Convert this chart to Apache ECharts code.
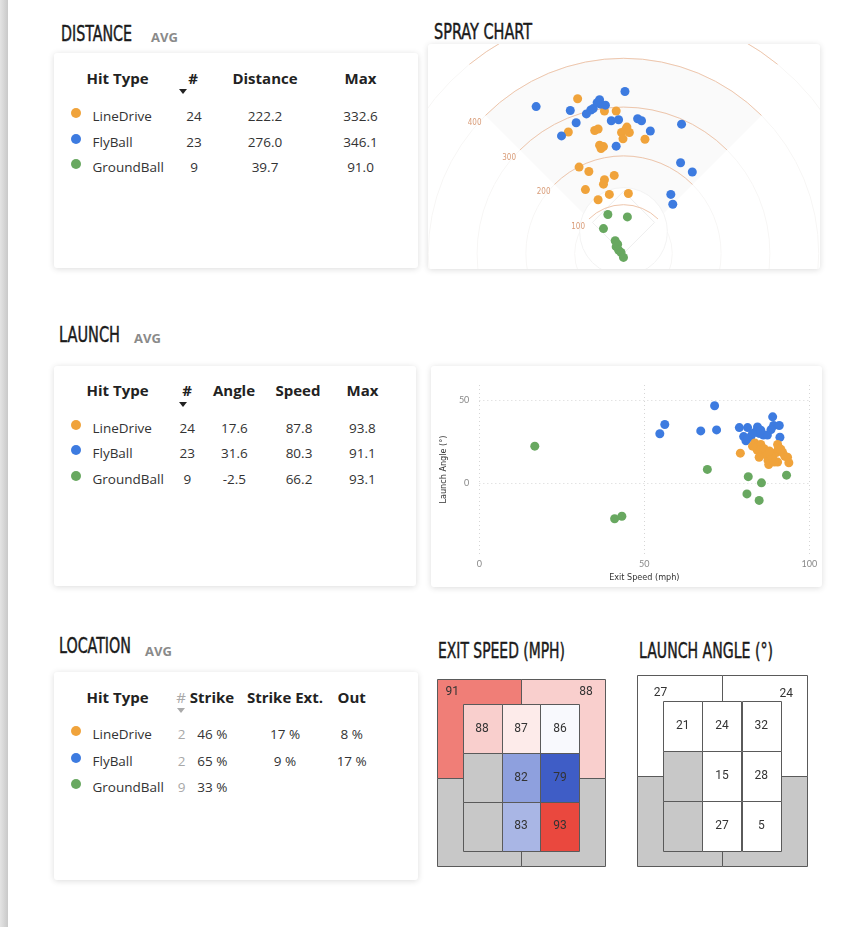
<!DOCTYPE html>
<html>
<head>
<meta charset="utf-8">
<style>
    body{margin:0;width:860px;height:927px;position:relative;overflow:hidden;background:#fff;font-family:"Open Sans","Noto Sans",sans-serif;color:#333;}
    .strip{position:absolute;left:0;top:0;width:8px;height:927px;background:linear-gradient(to right,#e4e4e4,#c9c9c9);}
    .title{position:absolute;font-family:"Liberation Sans Narrow","DejaVu Sans Condensed",sans-serif;font-size:22px;line-height:1;color:#1a1a1a;white-space:nowrap;transform-origin:left top;-webkit-text-stroke:0.45px #1a1a1a;}
    .avg{position:absolute;font-weight:bold;font-size:13px;color:#8a8a8a;line-height:1;transform:translate(0,-50%);}
    .card{position:absolute;background:#fff;border-radius:3px;box-shadow:0 1px 6px rgba(0,0,0,.14);}
    .t{position:absolute;white-space:nowrap;transform:translate(-50%,-50%);line-height:1.2;font-size:13.5px;color:#333;}
    .t.l{transform:translate(0,-50%);}
    .t.h{font-weight:bold;font-size:15px;color:#222;}
    .t.g{color:#a8a8a8;font-weight:normal;}
    .dot{position:absolute;width:10px;height:10px;border-radius:50%;}
    .arrow{position:absolute;width:0;height:0;border-left:4.5px solid transparent;border-right:4.5px solid transparent;border-top:5px solid #222;}
    .chart{position:absolute;}
</style>
<script src="https://cdn.jsdelivr.net/npm/echarts@6/dist/echarts.min.js"></script>
</head>
<body>
<div class="strip"></div>

<div class="card" style="left:54px;top:53px;width:364px;height:215px;"></div>
<div class="card" style="left:428px;top:44px;width:392px;height:225px;overflow:hidden;"><div id="spray" style="width:392px;height:225px;"></div></div>
<div class="card" style="left:54px;top:366px;width:362px;height:220px;"></div>
<div class="card" style="left:431px;top:366px;width:391px;height:221px;"><div id="launch" style="width:391px;height:221px;"></div></div>
<div class="card" style="left:54px;top:672px;width:364px;height:208px;"></div>

<div id="zoneSpeed" class="chart" style="left:435px;top:677px;width:172px;height:191px;"></div>
<div id="zoneAngle" class="chart" style="left:635px;top:673px;width:174px;height:195px;"></div>

<script type="text/javascript">
    // ---- table data ----
    var hitTypes = ['LineDrive', 'FlyBall', 'GroundBall'];
    var hitColors = ['#F0A33B', '#3D7BE0', '#68A860'];
    var hitCounts = [24, 23, 9];
    var distanceAvg = [222.2, 276.0, 39.7];
    var distanceMax = [332.6, 346.1, 91.0];
    var launchAngleAvg = [17.6, 31.6, -2.5];
    var launchSpeedAvg = [87.8, 80.3, 66.2];
    var launchSpeedMax = [93.8, 91.1, 93.1];
    var locCounts = [2, 2, 9];
    var locStrike = [46, 65, 33];
    var locStrikeExt = [17, 9, null];
    var locOut = [8, 17, null];

    // ---- spray chart: [x ft, y ft] from home plate ----
    var sprayLineDrive = [[-94,317],[-39,292],[-15,292],[-113,249],[-59,252],[-52,255],[7,259],[-4,248],[12,248],[4,253],[-1,235],[44,234],[-49,222],[-41,219],[-46,215],[-91,177],[-71,168],[-19,160],[-39,151],[-41,142],[-78,131],[-29,121],[10,123],[-52,110]];
    var sprayFlyBall = [[-179,301],[-109,293],[-97,268],[-127,241],[-76,286],[-67,294],[-62,297],[-49,315],[-47,306],[-37,304],[3,332],[-25,272],[-10,274],[29,276],[37,272],[55,251],[-15,220],[119,265],[117,186],[141,167],[97,121],[101,101],[-54,309]];
    var sprayGroundBall = [[-32,80],[8,75],[-41,51],[-17,26],[-15,14],[-12,19],[-10,7],[-5,2],[0,-8]];
    var distanceRings = [100, 200, 300, 400, 500];
    var distanceLabels = ['100', '200', '300', '400'];

    // ---- launch scatter: [exit speed, launch angle] ----
    var launchLineDrive = [[79.1,17.9],[83.5,24],[85.3,23.1],[84.2,19.8],[85.9,18.3],[87,16.7],[87.5,13.5],[87.7,11],[89,14.4],[90,18.3],[90.4,23.1],[90.6,20.6],[90.4,12.5],[91.9,18.3],[92.6,16],[93.4,15.4],[93.8,12.1],[88.4,16.3],[89.4,12.5],[84.8,15.4],[86.3,20.6],[87.9,19.2],[91.4,20.2],[82.8,22.1]];
    var launchFlyBall = [[71.3,46.5],[56.2,35.2],[54.7,29.6],[67.1,31.3],[71.9,31.9],[78.8,33.3],[81.3,33.3],[84.3,33.7],[88.9,39.8],[89.2,34.6],[90.9,34.6],[88.4,32.1],[91.1,27.5],[80.1,27.9],[80.8,25.4],[82.3,27.9],[83.8,30.8],[84.8,29.8],[86.1,28.8],[87.3,28.8],[82.8,29.8],[85.3,31.7],[81.3,26.9]];
    var launchGroundBall = [[16.8,22.1],[41,-21.7],[43.2,-20.2],[69.1,8.1],[81.5,3.7],[85.5,0],[93.1,4.6],[81.1,-6.7],[84.8,-10.6]];
    var angleTicks = [0, 50];

    // ---- strike zones: outer [TL, TR, BL, BR], inner rows top to bottom ----
    var speedOuter = [91, 88, null, null];
    var speedInner = [[88, 87, 86], [null, 82, 79], [null, 83, 93]];
    var angleOuter = [27, 24, null, null];
    var angleInner = [[21, 24, 32], [null, 15, 28], [null, 27, 5]];

    var narrow = '"Liberation Sans Narrow","DejaVu Sans Condensed",sans-serif';

    // ---- headings ----
    function heading(text, x, capTop, width) {
        var d = document.createElement('div');
        d.className = 'title';
        d.textContent = text;
        d.style.left = x + 'px';
        d.style.top = (capTop - 3) + 'px';
        document.body.appendChild(d);
        var w = d.getBoundingClientRect().width;
        d.style.transform = 'scaleX(' + (width / w) + ')';
    }
    function avgTag(x, y) {
        var d = document.createElement('div');
        d.className = 'avg';
        d.textContent = 'AVG';
        d.style.left = x + 'px';
        d.style.top = y + 'px';
        document.body.appendChild(d);
    }
    heading('DISTANCE', 61, 26, 71);
    avgTag(151, 37);
    heading('SPRAY CHART', 434, 24, 98);
    heading('LAUNCH', 59, 327, 61);
    avgTag(134, 338);
    heading('LOCATION', 59, 638, 72);
    avgTag(145, 651);
    heading('EXIT SPEED (MPH)', 438, 643, 127);
    heading('LAUNCH ANGLE (°)', 639, 643, 134);

    // ---- tables ----
    function txt(s, x, y, cls) {
        var d = document.createElement('div');
        d.className = 't ' + (cls || '');
        d.textContent = s;
        d.style.left = x + 'px';
        d.style.top = y + 'px';
        document.body.appendChild(d);
    }
    function arrow(x, y, color) {
        var d = document.createElement('div');
        d.className = 'arrow';
        d.style.left = (x - 4.5) + 'px';
        d.style.top = (y - 2.5) + 'px';
        d.style.borderTopColor = color;
        document.body.appendChild(d);
    }
    function table(headY, heads, arrowPos, arrowColor, rowsY, cols) {
        heads.forEach(function (h) { txt(h[0], h[1], headY, 'h ' + (h[2] || '')); });
        arrow(arrowPos[0], arrowPos[1], arrowColor);
        hitTypes.forEach(function (name, i) {
            var dot = document.createElement('div');
            dot.className = 'dot';
            dot.style.background = hitColors[i];
            dot.style.left = '71px';
            dot.style.top = (rowsY[i] - 8) + 'px';
            document.body.appendChild(dot);
            txt(name, 92.5, rowsY[i], 'l');
            cols.forEach(function (c) {
                var v = c[0][i];
                if (v === null) return;
                txt(c[2](v), c[1], rowsY[i], c[3] || '');
            });
        });
    }
    function f1(v) { return v.toFixed(1); }
    function pct(v) { return v + ' %'; }
    function plain(v) { return String(v); }

    table(78, [['Hit Type', 117.5], ['#', 193], ['Distance', 265], ['Max', 360.5]], [183.3, 91], '#222',
        [116, 141.7, 166.7],
        [[hitCounts, 194, plain], [distanceAvg, 265, f1], [distanceMax, 360.5, f1]]);
    table(389.5, [['Hit Type', 117.5], ['#', 187], ['Angle', 234], ['Speed', 298], ['Max', 362.5]], [183.3, 404.3], '#222',
        [427.7, 453.3, 479.3],
        [[hitCounts, 187.3, plain], [launchAngleAvg, 234.3, f1], [launchSpeedAvg, 299, f1], [launchSpeedMax, 362.3, f1]]);
    table(697, [['Hit Type', 117.5], ['#', 181, 'g'], ['Strike', 212], ['Strike Ext.', 285], ['Out', 351.7]], [181.7, 710], '#aaa',
        [734.3, 760.7, 786.7],
        [[locCounts, 181.7, plain, 'g'], [locStrike, 212.3, pct], [locStrikeExt, 285, pct], [locOut, 351.7, pct]]);

    // ---- spray chart ----
    var sprayChart = echarts.init(document.getElementById('spray'));
    var Q = Math.PI / 4;
    sprayChart.setOption({
        animation: false,
        grid: {left: 0, right: 0, top: 0, bottom: 0},
        xAxis: {type: 'value', min: -400.6, max: 402.7, show: false},
        yAxis: {type: 'value', min: -31.8, max: 429.3, show: false},
        series: [{
            // field: fan, infield and faint rings
            type: 'custom', silent: true, clip: true,
            data: [[0]],
            renderItem: function (params, api) {
                var c = api.coord([0, 0]);
                var px = api.size([1, 0])[0];
                var kids = [{
                    type: 'sector',
                    shape: {cx: c[0], cy: c[1], r0: 0, r: 400 * px, startAngle: -3 * Q, endAngle: -Q},
                    style: {fill: '#fafafa'}
                }];
                distanceRings.forEach(function (r) {
                    kids.push({type: 'circle', shape: {cx: c[0], cy: c[1], r: r * px},
                        style: {fill: null, stroke: '#f7f6f5', lineWidth: 1}});
                });
                var m = api.coord([0, 45]);
                kids.push({type: 'circle', shape: {cx: m[0], cy: m[1], r: 90 * px},
                    style: {fill: '#ffffff', stroke: '#f3f3f3', lineWidth: 1}});
                var b1 = api.coord([63.6, 63.6]), b2 = api.coord([0, 127.3]), b3 = api.coord([-63.6, 63.6]);
                kids.push({type: 'polygon', shape: {points: [c, b1, b2, b3]},
                    style: {fill: null, stroke: '#efefef', lineWidth: 1}});
                return {type: 'group', children: kids};
            }
        }, {
            // distance arcs
            type: 'custom', silent: true, clip: true,
            data: distanceRings.map(function (r) { return [r]; }),
            renderItem: function (params, api) {
                var r = api.value(0);
                var c = api.coord([0, 0]);
                var rp = api.size([r, 0])[0];
                var half = r >= 500 ? 0.87 * Q : Q;
                var kids = [{
                    type: 'arc',
                    shape: {cx: c[0], cy: c[1], r: rp, startAngle: -Math.PI / 2 - half, endAngle: -Math.PI / 2 + half, clockwise: true},
                    style: {fill: null, stroke: '#EEC6AC', lineWidth: 1}
                }];
                var lbl = distanceLabels[params.dataIndex];
                if (lbl) {
                    kids.push({
                        type: 'text',
                        x: c[0] - rp * Math.SQRT1_2 - 4,
                        y: c[1] - rp * Math.SQRT1_2 + 7.5,
                        style: {text: lbl, fill: '#D99C78', fontSize: 8, fontFamily: narrow, align: 'right', verticalAlign: 'middle'}
                    });
                }
                return {type: 'group', children: kids};
            }
        }, {
            name: 'LineDrive', type: 'scatter', symbolSize: 9, data: sprayLineDrive,
            itemStyle: {color: hitColors[0], opacity: 1}
        }, {
            name: 'FlyBall', type: 'scatter', symbolSize: 9, data: sprayFlyBall,
            itemStyle: {color: hitColors[1], opacity: 1}
        }, {
            name: 'GroundBall', type: 'scatter', symbolSize: 9, data: sprayGroundBall,
            itemStyle: {color: hitColors[2], opacity: 1}
        }]
    });

    // ---- launch scatter ----
    var launchChart = echarts.init(document.getElementById('launch'));
    var dotted = {show: true, lineStyle: {type: [1, 3], color: '#d6d6d6', width: 1}};
    launchChart.setOption({
        animation: false,
        grid: {left: 45.7, right: 12.7, top: 19, bottom: 25.3},
        xAxis: {
            type: 'value', min: 0, max: 100, interval: 50,
            name: 'Exit Speed (mph)', nameLocation: 'middle', nameGap: 13,
            nameTextStyle: {color: '#333', fontSize: 9, fontFamily: narrow},
            axisLine: {show: false}, axisTick: {show: false},
            axisLabel: {color: '#888', fontSize: 9, margin: 5, fontFamily: 'Lato, sans-serif'},
            splitLine: dotted
        },
        yAxis: {
            type: 'value', min: -43, max: 59,
            name: 'Launch Angle (°)', nameLocation: 'middle', nameGap: 30, nameRotate: 90,
            nameTextStyle: {color: '#333', fontSize: 9, fontFamily: narrow},
            axisLine: {show: false},
            axisTick: {show: false, customValues: angleTicks},
            axisLabel: {color: '#888', fontSize: 9, margin: 10, fontFamily: 'Lato, sans-serif', customValues: angleTicks},
            splitLine: dotted
        },
        series: [{
            name: 'FlyBall', type: 'scatter', symbolSize: 9, data: launchFlyBall,
            itemStyle: {color: hitColors[1], opacity: 1}
        }, {
            name: 'LineDrive', type: 'scatter', symbolSize: 9, data: launchLineDrive,
            itemStyle: {color: hitColors[0], opacity: 1}
        }, {
            name: 'GroundBall', type: 'scatter', symbolSize: 9, data: launchGroundBall,
            itemStyle: {color: hitColors[2], opacity: 1}
        }]
    });

    // ---- strike zones ----
    var ZX0 = -0.66, ZX1 = 3.66, ZY0 = -0.52, ZY1 = 3.31;
    function zoneData(outer, inner, cornerLabels) {
        var items = [];
        var qx = [[ZX0, 1.5], [1.5, ZX1]], qy = [[ZY0, 1.5], [1.5, ZY1]];
        outer.forEach(function (v, k) {
            var cx = qx[k % 2], cy = qy[Math.floor(k / 2)];
            var lp = cornerLabels[k] || [0, 0];
            items.push([cx[0], cy[0], cx[1], cy[1], v, lp[0], lp[1]]);
        });
        inner.forEach(function (row, r) {
            row.forEach(function (v, c) {
                items.push([c, r, c + 1, r + 1, v, c + 0.5, r + 0.5]);
            });
        });
        return items;
    }
    function zoneOption(data, colored) {
        var opt = {
            animation: false,
            grid: {left: 2, right: 2, top: 2, bottom: 2},
            xAxis: {type: 'value', min: ZX0, max: ZX1, show: false},
            yAxis: {type: 'value', min: ZY0, max: ZY1, inverse: true, show: false},
            series: [{
                type: 'custom', silent: true,
                data: data,
                renderItem: function (params, api) {
                    var p0 = api.coord([api.value(0), api.value(1)]);
                    var p1 = api.coord([api.value(2), api.value(3)]);
                    var v = api.value(4);
                    var empty = isNaN(v);
                    var fill = empty ? '#c8c8c8' : (colored ? api.visual('color') : '#ffffff');
                    var kids = [{
                        type: 'rect',
                        shape: {x: Math.round(p0[0]) + 0.5, y: Math.round(p0[1]) + 0.5,
                            width: Math.round(p1[0] - p0[0]), height: Math.round(p1[1] - p0[1])},
                        style: {fill: fill, stroke: '#5a5a5a', lineWidth: 1}
                    }];
                    if (!empty) {
                        var lp = api.coord([api.value(5), api.value(6)]);
                        kids.push({type: 'text', x: lp[0], y: lp[1],
                            style: {text: String(v), fill: '#333', fontSize: 12, fontFamily: 'Roboto, sans-serif', align: 'center', verticalAlign: 'middle'}});
                    }
                    return {type: 'group', children: kids};
                }
            }]
        };
        if (colored) {
            opt.visualMap = {type: 'continuous', show: false, min: 79, max: 93.5, dimension: 4, seriesIndex: 0,
                inRange: {color: ['#3F5DC6', '#FFFFFF', '#E83A30']}};
        }
        return opt;
    }
    echarts.init(document.getElementById('zoneSpeed')).setOption(
        zoneOption(zoneData(speedOuter, speedInner, [[-0.27, -0.25], [3.17, -0.25]]), true));
    echarts.init(document.getElementById('zoneAngle')).setOption(
        zoneOption(zoneData(angleOuter, angleInner, [[-0.06, -0.15], [3.13, -0.14]]), false));
</script>
</body>
</html>
